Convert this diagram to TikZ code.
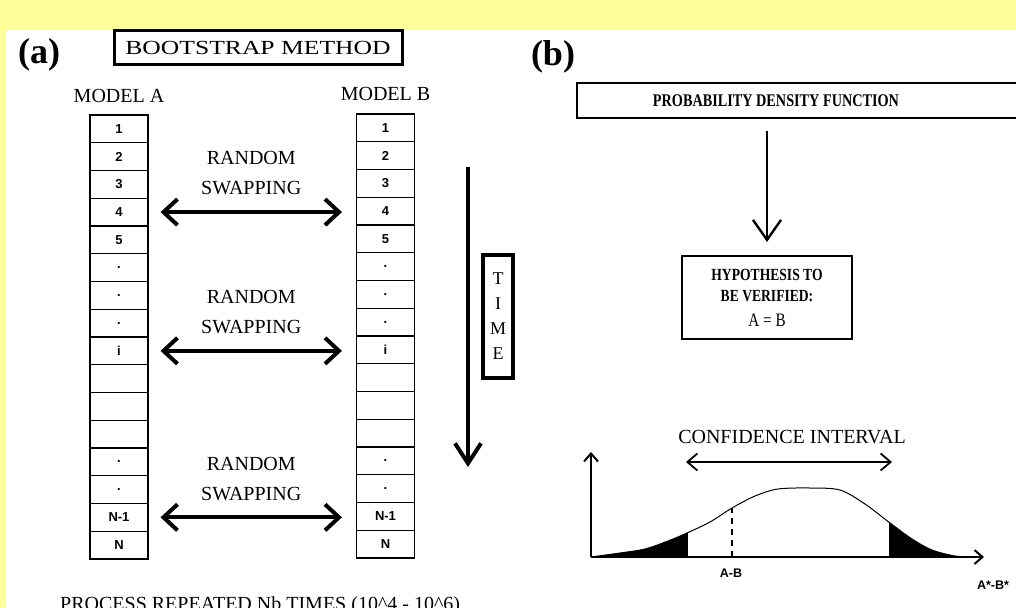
\documentclass[tikz,border=0pt]{standalone}
\usepackage{fontspec}
\setmainfont{Liberation Serif}
\setsansfont{Liberation Sans}
\newfontfamily\wideserif[FakeStretch=1.28]{Liberation Serif}
\newfontfamily\narrowserif[FakeStretch=0.8]{Liberation Serif}
\usepackage{xcolor}
\usepackage{tikz}
\usetikzlibrary{positioning,arrows.meta,calc}
\definecolor{pageyellow}{RGB}{255,255,153}

\begin{document}
\begin{tikzpicture}[
  x=1pt, y=-1pt,
  cell/.style={draw, line width=1.1pt, minimum width=58pt, minimum height=27.75pt, inner sep=0pt, font=\sffamily\bfseries\fontsize{13}{13}\selectfont},
  lbl/.style={inner sep=0pt, font=\fontsize{20}{30}\selectfont, align=center},
  panel/.style={inner sep=0pt, font=\bfseries\fontsize{36}{36}\selectfont},
  boxed/.style={draw, line width=2pt, inner sep=0pt},
  smalllbl/.style={inner sep=0pt, font=\sffamily\bfseries\fontsize{12.5}{12.5}\selectfont},
  swaparr/.style={{Straight Barb[length=14pt,width=26pt]}-{Straight Barb[length=14pt,width=26pt]}, line width=4pt},
  thinarr/.style={{Straight Barb[length=10pt,width=17pt]}-{Straight Barb[length=10pt,width=17pt]}, line width=1.8pt},
  downarr/.style={-{Straight Barb[length=20pt,width=28pt]}, line width=2.4pt},
  axis/.style={-{Straight Barb[length=8pt,width=14pt]}, line width=2pt},
]

% Page
\useasboundingbox (0,0) rectangle (1016,607);
\clip (0,0) rectangle (1016,607);
\fill[pageyellow] (0,0) rectangle (1016,607);
\fill[white] (6,30) rectangle (1016,607);

% Panel (a)
\node[panel] (pa) at (39,55) {(a)};
\node[boxed, line width=3pt, minimum width=288pt, minimum height=34pt, font=\wideserif\fontsize{20}{20}\selectfont] (boot) at (258,48) {BOOTSTRAP METHOD};

% Models
\foreach \lab [count=\k] in {1,2,3,4,5,{.},{.},{.},i,{},{},{},{.},{.},N-1,N} {
  \node[cell] (a\k) at (119,101.1+27.75*\k) {\lab};
  \node[cell] (b\k) at (385.5,100.1+27.75*\k) {\lab};
}
\node[lbl, above=12pt of a1.north] (ma) {MODEL A};
\node[lbl, above=13pt of b1.north] (mb) {MODEL B};

% Swapping
\foreach \r in {4,9,15} {
  \draw[swaparr] ([xshift=12pt]a\r.east) -- ($(a\r.east -| b\r.west)+(-14,0)$)
    node[lbl, midway, above=15pt] {RANDOM\\SWAPPING};
}

% Time
\coordinate (tstart) at (468,167);
\coordinate (tend) at (468,467);
\draw[-{Straight Barb[length=20pt,width=26pt]}, line width=4pt] (tstart) -- (tend);
\node[boxed, line width=4pt, minimum width=30pt, minimum height=123pt, align=center, font=\fontsize{18}{25}\selectfont] (time) at (498,316.5) {T\\I\\M\\E};

% Panel (b)
\node[panel] (pb) at (553,57) {(b)};
\node[boxed, line width=2.4pt, minimum width=462pt, minimum height=35pt] (pdf) at (808,100.5) {};
\node[inner sep=0pt, font=\narrowserif\bfseries\fontsize{17.8}{17.8}\selectfont] (pdflbl) at (776,100.5) {PROBABILITY DENSITY FUNCTION};
\node[boxed, minimum width=170pt, minimum height=83pt, align=center, font=\narrowserif\bfseries\fontsize{17}{21}\selectfont] (hyp) at (767,297.5)
  {HYPOTHESIS TO\\BE VERIFIED:\\[4pt]{\mdseries\fontsize{19}{19}\selectfont A = B}};
\draw[downarr] ($(pdf.south -| hyp.north)+(0,12)$) -- ($(hyp.north)+(0,-13)$);

% Distribution
\node[lbl] (ci) at (792,437) {CONFIDENCE INTERVAL};
\coordinate (cil) at (686,462);
\coordinate (cir) at (892,462);
\draw[thinarr] (cil) -- (cir);

\coordinate (origin) at (591,557);
\coordinate (ytop) at (591,452);
\coordinate (xend) at (984,557);

\begin{scope}
  \clip (591,440) rectangle (687,560) (890,440) rectangle (990,560);
  \fill plot[smooth] coordinates {(591,557) (620,553) (645,549) (668,541) (687,533) (710,522) (732,508) (755,496) (778,489) (810,488) (840,490) (865,504) (890,523) (912,539) (932,550) (955,556) (975,557)} -- cycle;
\end{scope}
\draw[line width=1pt] plot[smooth] coordinates {(591,557) (620,553) (645,549) (668,541) (687,533) (710,522) (732,508) (755,496) (778,489) (810,488) (840,490) (865,504) (890,523) (912,539) (932,550) (955,556) (975,557)};
\draw[line width=2pt] (687,533) -- (687,557);
\draw[line width=2pt] (890,523) -- (890,557);
\draw[line width=2pt, dash pattern=on 6pt off 5pt] (732,557) -- (732,508);

\draw[axis] (origin) -- (ytop);
\draw[axis] (origin) -- (xend);

\node[smalllbl] (ab) at (731,573) {A-B};
\node[smalllbl] (abstar) at (993,585) {A*-B*};

% Repetition
\node[lbl, anchor=base west] (proc) at (60,610) {PROCESS REPEATED Nb TIMES (10\textasciicircum 4 - 10\textasciicircum 6)};

\end{tikzpicture}
\end{document}
